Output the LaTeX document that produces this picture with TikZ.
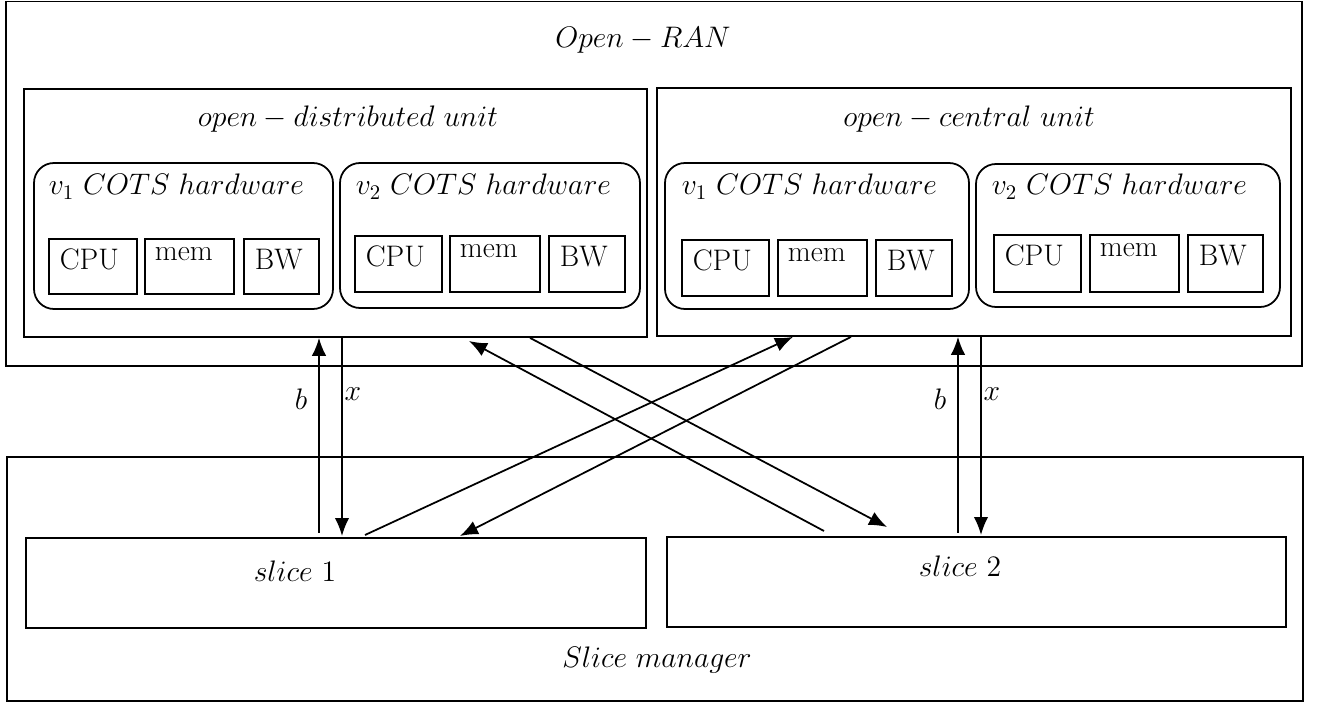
\documentclass[tikz,border=0pt]{standalone}
\usepackage{fix-cm}
\usetikzlibrary{arrows.meta,fit}
\tikzset{
  box/.style={draw,inner sep=0pt},
  hw/.style={draw,rounded corners=0.4cm,inner sep=0pt},
  txt/.style={inner sep=0pt},
  arr/.style={-{Latex[length=0.36cm,width=0.29cm]}}}
\begin{document}
\begin{tikzpicture}[x=0.02cm,y=-0.02cm,line width=1pt,
  every node/.style={font=\fontsize{16.9}{20}\selectfont}]
\useasboundingbox (0,0) rectangle (1323,702);
% Open-RAN
\node[box,fit={(6,1.5) (1302,366)}] (oran) {};
\node[txt,anchor=base] (oranlbl) at (643,48) {$Open-RAN$};
% DU
\node[box,fit={(24,89) (647,337)}] (du) {};
\node[txt,anchor=base] (dulbl) at (348,127) {$open-distributed\ unit$};
\node[hw,fit={(34,163) (333,309)}] (du1) {};
\node[txt,anchor=base west] (du1lbl) at (48,195) {$v_1\ COTS\ hardware$};
\node[box,fit={(49,239) (137,294)}] (du1c) {};
\node[box,fit={(145,239) (234,294)}] (du1m) {};
\node[box,fit={(244,239) (319,294)}] (du1b) {};
\node[txt,anchor=north west] (du1ct) at (59,248) {CPU};
\node[txt,anchor=north west] (du1mt) at (154,247) {mem};
\node[txt,anchor=north west] (du1bt) at (254,248) {BW};
\node[hw,fit={(340,163) (640,308)}] (du2) {};
\node[txt,anchor=base west] (du2lbl) at (355,195) {$v_2\ COTS\ hardware$};
\node[box,fit={(355,236) (442,292)}] (du2c) {};
\node[box,fit={(450,236) (540,292)}] (du2m) {};
\node[box,fit={(549,236) (625,292)}] (du2b) {};
\node[txt,anchor=north west] (du2ct) at (365,245) {CPU};
\node[txt,anchor=north west] (du2mt) at (459,244) {mem};
\node[txt,anchor=north west] (du2bt) at (559,245) {BW};
% CU
\node[box,fit={(657,88) (1291,336)}] (cu) {};
\node[txt,anchor=base] (culbl) at (969,127) {$open-central\ unit$};
\node[hw,fit={(665,163) (969,309)}] (cu1) {};
\node[txt,anchor=base west] (cu1lbl) at (681,195) {$v_1\ COTS\ hardware$};
\node[box,fit={(682,240) (769,296)}] (cu1c) {};
\node[box,fit={(778,240) (867,296)}] (cu1m) {};
\node[box,fit={(876,240) (952,296)}] (cu1b) {};
\node[txt,anchor=north west] (cu1ct) at (692,249) {CPU};
\node[txt,anchor=north west] (cu1mt) at (787,248) {mem};
\node[txt,anchor=north west] (cu1bt) at (886,249) {BW};
\node[hw,fit={(976,164) (1280,307)}] (cu2) {};
\node[txt,anchor=base west] (cu2lbl) at (991,195) {$v_2\ COTS\ hardware$};
\node[box,fit={(994,235) (1081,292)}] (cu2c) {};
\node[box,fit={(1090,235) (1179,292)}] (cu2m) {};
\node[box,fit={(1188,235) (1263,292)}] (cu2b) {};
\node[txt,anchor=north west] (cu2ct) at (1004,244) {CPU};
\node[txt,anchor=north west] (cu2mt) at (1099,243) {mem};
\node[txt,anchor=north west] (cu2bt) at (1198,244) {BW};
% Slice manager
\node[box,fit={(7,457) (1303,701)}] (sm) {};
\node[txt,anchor=base] (smlbl) at (657,667) {$Slice\ manager$};
\node[box,fit={(26,538) (646,628)}] (slice1) {};
\node[txt,anchor=base] (s1lbl) at (295,582) {$slice\ 1$};
\node[box,fit={(667,537) (1286,627)}] (slice2) {};
\node[txt,anchor=base] (s2lbl) at (960,577) {$slice\ 2$};
% arrow ends
\coordinate (b1) at (319,533);
\coordinate (x1) at (342,536);
\coordinate (a1) at (365,535);
\coordinate (a1t) at (793,0);
\coordinate (a2) at (851,0);
\coordinate (a2t) at (460,536);
\coordinate (a3) at (824,531);
\coordinate (a3t) at (469,341);
\coordinate (a4) at (530,0);
\coordinate (a4t) at (887,527);
\coordinate (b2) at (958,533);
\coordinate (x2) at (981,535);
\draw[arr] (b1) -- (du.south -| b1);
\draw[arr] (du.south -| x1) -- (x1);
\draw[arr] (a1) -- (cu.south -| a1t);
\draw[arr] (cu.south -| a2) -- (a2t);
\draw[arr] (a3) -- (a3t);
\draw[arr] (du.south -| a4) -- (a4t);
\draw[arr] (b2) -- (cu.south -| b2);
\draw[arr] (cu.south -| x2) -- (x2);
\node[txt] (bl1) at (301,399) {$b$};
\node[txt] (xl1) at (353,394) {$x$};
\node[txt] (bl2) at (940,399) {$b$};
\node[txt] (xl2) at (992,394) {$x$};
\end{tikzpicture}
\end{document}
